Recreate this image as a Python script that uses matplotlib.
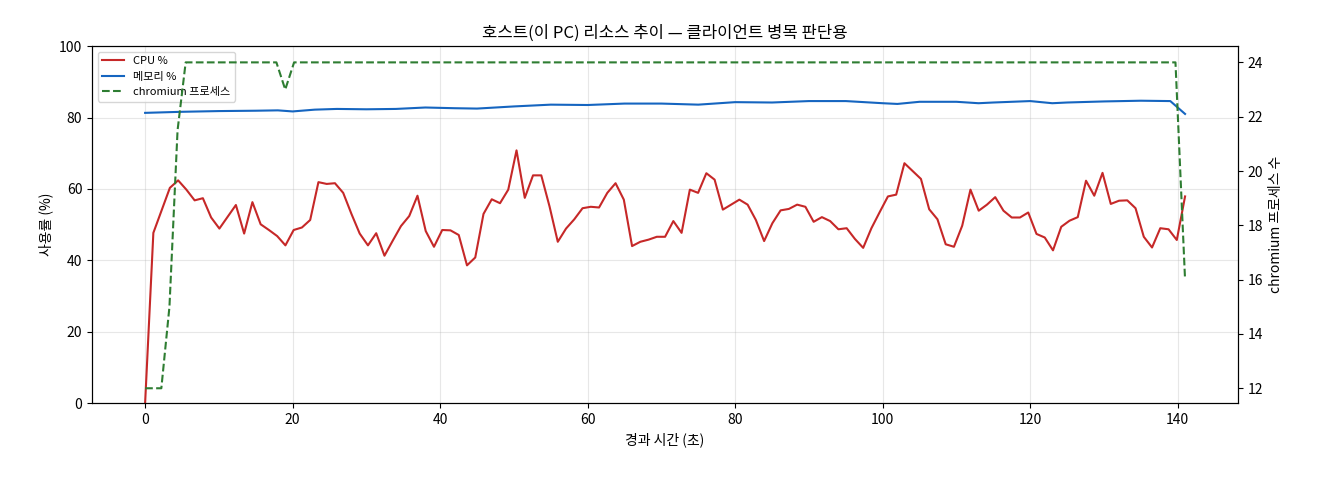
import numpy as np
import matplotlib
matplotlib.use("Agg")
import matplotlib.pyplot as plt

plt.rcParams['font.family'] = ['Noto Sans CJK KR', 'DejaVu Sans']

cpu = [0, 47.7, 54, 60.3, 62.4, 59.8, 56.8, 57.4, 52, 48.9, 52.2, 55.5, 47.5, 56.3, 50.1, 48.5, 46.8, 44.2,
       48.5, 49.2, 51.3, 61.9, 61.4, 61.6, 58.9, 53, 47.5, 44.2, 47.6, 41.3, 45.5, 49.6, 52.4, 58.1, 48.2,
       43.8, 48.5, 48.4, 47.1, 38.6, 40.8, 53, 57.1, 56, 59.8, 70.8, 57.5, 63.8, 63.8, 55.1, 45.2, 48.9,
       51.5, 54.6, 55, 54.8, 58.9, 61.6, 57, 44, 45.2, 45.8, 46.6, 46.6, 51, 47.7, 59.8, 58.9, 64.4, 62.6,
       54.2, 55.6, 57, 55.6, 51.3, 45.4, 50.4, 54, 54.4, 55.6, 55, 50.8, 52.1, 51, 48.7, 49, 46, 43.5, 49,
       53.5, 57.9, 58.4, 67.2, 65, 62.8, 54.3, 51.5, 44.5, 43.8, 49.7, 59.8, 53.9, 55.6, 57.7, 53.9, 52,
       52, 53.4, 47.4, 46.4, 42.8, 49.4, 51.1, 52.1, 62.3, 58.1, 64.5, 55.8, 56.7, 56.8, 54.6, 46.6, 43.6,
       49, 48.7, 45.7, 57.9]
cpu_time = np.linspace(0, 141, len(cpu))

mem_time = [0, 5, 10, 15, 18, 20, 23, 26, 30, 34, 38, 42, 45, 50, 55, 60, 65, 70, 75, 80, 85, 90, 95,
            100, 102, 105, 110, 113, 115, 120, 123, 125, 130, 135, 139, 141]
mem = [81.3, 81.6, 81.8, 81.9, 82.0, 81.7, 82.2, 82.4, 82.3, 82.4, 82.8, 82.6, 82.5, 83.1, 83.6, 83.5,
       83.9, 83.9, 83.6, 84.3, 84.2, 84.6, 84.6, 84.0, 83.8, 84.4, 84.4, 84.0, 84.2, 84.6, 84.0, 84.2,
       84.5, 84.7, 84.6, 81.0]

proc_time = [0, 1.1, 2.2, 3.3, 4.4, 5.5, 17.8, 19.0, 20.2, 139.7, 141]
proc = [12, 12, 12, 15, 21.5, 24, 24, 23, 24, 24, 16]

fig, ax = plt.subplots(figsize=(13.2, 4.8), dpi=100)
fig.subplots_adjust(left=0.0697, right=0.938, top=0.904, bottom=0.16)
l1, = ax.plot(cpu_time, cpu, color='#c62828', lw=1.5, label='CPU %')
l2, = ax.plot(mem_time, mem, color='#1565c0', lw=1.5, label='메모리 %')
ax.set_ylim(0, 100)
ax.set_xlim(-7.2, 148.2)
ax.set_xlabel('경과 시간 (초)')
ax.set_ylabel('사용률 (%)')
ax.grid(True, alpha=0.3)
ax.set_title('호스트(이 PC) 리소스 추이 — 클라이언트 병목 판단용')
ax2 = ax.twinx()
l3, = ax2.plot(proc_time, proc, color='#2e7d32', lw=1.5, ls='--', label='chromium 프로세스')
ax2.set_ylim(11.45, 24.6)
ax2.set_ylabel('chromium 프로세스 수')
ax.legend(handles=[l1, l2, l3], loc='upper left', fontsize=8)
fig.savefig('out.png')
